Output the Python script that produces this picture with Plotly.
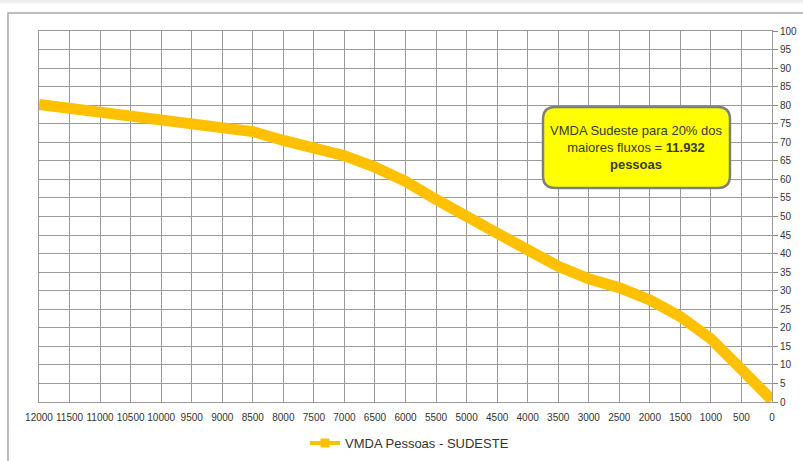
import plotly.graph_objects as go

# VMDA (pessoas) by flow rank, Sudeste region
x_rank = [12000, 11500, 11000, 10500, 10000, 9500, 9000, 8500, 8000, 7500,
          7000, 6500, 6000, 5500, 5000, 4500, 4000, 3500, 3000, 2500,
          2000, 1500, 1000, 500, 0]
vmda_pct = [80.2, 79.1, 78.1, 77.1, 76.0, 74.9, 73.9, 72.9, 70.5, 68.6,
            66.4, 63.3, 59.5, 54.6, 49.8, 45.5, 41.0, 36.6, 33.2, 30.8,
            27.5, 23.0, 17.0, 8.8, 0.5]

x_ticks = list(range(12000, -1, -500))
y_ticks = list(range(0, 101, 5))

series_name = "VMDA Pessoas - SUDESTE"
note_lines = ["VMDA Sudeste para 20% dos", "maiores fluxos = <b>11.932</b>", "<b>pessoas</b>"]

LINE_COLOR = "#FFC000"
GRID = "#9a9a9a"
FONT = "Liberation Sans, Arial, sans-serif"

fig = go.Figure()

fig.add_trace(go.Scatter(
    x=x_rank, y=vmda_pct, mode="lines",
    line=dict(color=LINE_COLOR, width=11),
    showlegend=False, hoverinfo="x+y",
))
# legend entry with the square marker
fig.add_trace(go.Scatter(
    x=[None], y=[None], mode="lines+markers", name=series_name,
    line=dict(color=LINE_COLOR, width=4),
    marker=dict(symbol="square", size=9, color=LINE_COLOR),
))

# rounded callout box
x0, x1, y0, y1 = 3749, 688, 57.7, 79.5
rx, ry = 200, 3.3
path = (f"M {x0 - rx},{y1} L {x1 + rx},{y1} Q {x1},{y1} {x1},{y1 - ry} "
        f"L {x1},{y0 + ry} Q {x1},{y0} {x1 + rx},{y0} "
        f"L {x0 - rx},{y0} Q {x0},{y0} {x0},{y0 + ry} "
        f"L {x0},{y1 - ry} Q {x0},{y1} {x0 - rx},{y1} Z")
fig.add_shape(type="path", path=path, xref="x", yref="y",
              fillcolor="#FFFF00", line=dict(color="#7f7f7f", width=2.5))
fig.add_annotation(x=(x0 + x1) / 2, y=(y0 + y1) / 2, xref="x", yref="y",
                   text="<br>".join(note_lines), showarrow=False,
                   font=dict(family=FONT, size=13, color="#3a3a3a"),
                   align="center")

# outer chart frame and top strip
fig.add_shape(type="rect", xref="paper", yref="paper",
              x0=-0.0423, x1=1.1, y0=-0.2, y1=1.0485,
              line=dict(color="#a6a6a6", width=1.5), fillcolor="rgba(0,0,0,0)",
              layer="below")
fig.add_shape(type="rect", xref="paper", yref="paper",
              x0=-0.1, x1=1.1, y0=(402 - 3) / 371, y1=1.2,
              line=dict(width=0), fillcolor="#efefef", layer="below")

fig.update_layout(
    width=803, height=461,
    margin=dict(l=39, r=31, t=31, b=59, autoexpand=False),
    paper_bgcolor="white", plot_bgcolor="white",
    font=dict(family=FONT, size=10, color="#333333"),
    legend=dict(orientation="h", xref="container", yref="container",
                x=0.51, y=0.039, xanchor="center", yanchor="middle",
                font=dict(family=FONT, size=13, color="#333333"),
                itemwidth=30),
    xaxis=dict(range=[12000, 0], tickvals=x_ticks, ticktext=[str(v) for v in x_ticks],
               showgrid=True, gridcolor=GRID, gridwidth=1,
               showline=True, mirror=True, linecolor=GRID, linewidth=1,
               ticks="outside", ticklen=6, tickcolor="rgba(0,0,0,0)",
               zeroline=False, tickfont=dict(size=10), automargin=False),
    yaxis=dict(range=[0, 100], tickvals=y_ticks, side="right",
               showgrid=True, gridcolor=GRID, gridwidth=1,
               ticks="outside", ticklen=5, tickcolor="#888888",
               showline=True, mirror=True, linecolor=GRID, linewidth=1,
               zeroline=False, tickfont=dict(size=10), automargin=False),
)

fig.write_html("out.html")
